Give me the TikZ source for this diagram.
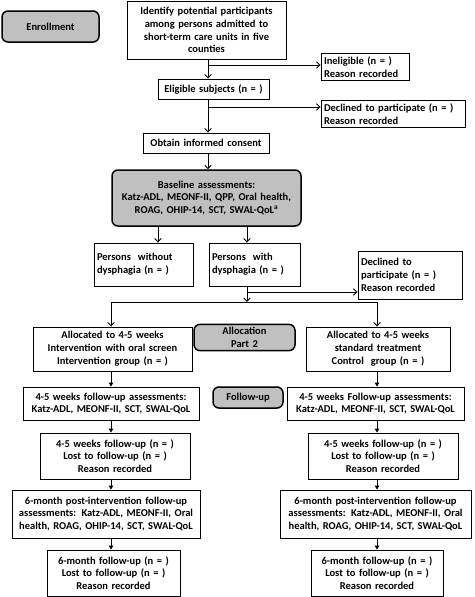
\documentclass[tikz,border=0pt]{standalone}
\usepackage{fontspec}
\setmainfont{Carlito}
\usetikzlibrary{arrows.meta}
\definecolor{boxgray}{RGB}{192,192,192}
\tikzset{
  box/.style={draw=black, line width=0.9pt, inner sep=3pt, font=\fontsize{10.5}{12.8}\selectfont\bfseries, align=center},
  lbox/.style={align=left},
  gbox/.style={fill=boxgray, rounded corners=6pt, line width=1.5pt},
  arr/.style={line width=0.9pt, -{Straight Barb[length=3.5pt,width=6.5pt]}},
  sarr/.style={line width=0.9pt, -{Triangle[length=4pt,width=4.5pt]}},
  ln/.style={line width=0.9pt}
}
\newcommand{\mybox}[7][]{%
  \pgfmathsetmacro\bxcx{(#3+#5)/2}\pgfmathsetmacro\bxcy{(#4+#6)/2}%
  \pgfmathsetmacro\bxw{#5-#3}\pgfmathsetmacro\bxh{#6-#4}\pgfmathsetmacro\bxtw{#5-#3-6}%
  \node[box,#1,minimum width=\bxw pt,minimum height=\bxh pt,text width=\bxtw pt] (#2) at (\bxcx,\bxcy) {#7};}
\begin{document}
\begin{tikzpicture}[x=1pt,y=-1pt]
\useasboundingbox (0,0) rectangle (474,597);
% enrollment column
\mybox[gbox]{enroll}{2}{11}{99}{42}{Enrollment}
\mybox{ident}{127}{1}{286}{59}{Identify potential participants\\among persons admitted to\\short-term care units in five\\counties}
\mybox[lbox]{inelig}{321}{55}{409}{79}{Ineligible (n = )\\Reason recorded}
\mybox{elig}{158}{79}{269}{99}{Eligible subjects (n = )}
\mybox[lbox]{decl1}{321}{102}{465}{126}{Declined to participate (n = )\\Reason recorded}
\mybox{consent}{143}{133}{269}{153}{Obtain informed consent}
\mybox[gbox]{base}{112}{170}{301}{226}{Baseline assessments:\\Katz-ADL, MEONF-II, QPP, Oral health,\\ROAG, OHIP-14, SCT, SWAL-QoL\textsuperscript{a}}
\mybox[lbox]{without}{94}{243}{193}{286}{Persons\ \ without\\dysphagia (n = )}
\mybox[lbox]{with}{209}{243}{300}{286}{Persons\ \ with\\dysphagia (n = )}
\mybox[lbox]{decl2}{358}{251}{462}{299}{Declined to\\participate (n = )\\Reason recorded}
% allocation
\mybox{intalloc}{33}{327}{192}{371}{Allocated to 4-5 weeks\\Intervention with oral screen\\Intervention group (n = )}
\mybox[gbox]{alloc}{194}{325}{295}{350}{Allocation\\Part 2}
\mybox{conalloc}{306}{327}{450}{371}{Allocated to 4-5 weeks\\standard treatment\\Control\ \ group (n = )}
% follow-up
\mybox{fuL}{23}{387}{199}{420}{4-5 weeks follow-up assessments:\\Katz-ADL, MEONF-II, SCT, SWAL-QoL}
\mybox[gbox]{fulabel}{213}{387}{283}{408}{Follow-up}
\mybox{fuR}{287}{387}{464}{420}{4-5 weeks Follow-up assessments:\\Katz-ADL, MEONF-II, SCT, SWAL-QoL}
\mybox{wkL}{40}{433}{190}{479}{4-5 weeks follow-up (n = )\\Lost to follow-up (n = )\\Reason recorded}
\mybox{wkR}{308}{433}{458}{479}{4-5 weeks follow-up (n = )\\Lost to follow-up (n = )\\Reason recorded}
\mybox{smL}{12}{490}{200}{538}{6-month post-intervention follow-up\\assessments: Katz-ADL, MEONF-II, Oral\\health, ROAG, OHIP-14, SCT, SWAL-QoL}
\mybox{smR}{280}{490}{471}{538}{6-month post-intervention follow-up\\assessments: Katz-ADL, MEONF-II, Oral\\health, ROAG, OHIP-14, SCT, SWAL-QoL}
\mybox{fsL}{47}{550}{180}{596}{6-month follow-up (n = )\\Lost to follow-up (n = )\\Reason recorded}
\mybox{fsR}{311}{550}{443}{596}{6-month follow-up (n = )\\Lost to follow-up (n = )\\Reason recorded}
% connectors (upper part)
\coordinate (b1) at (208,65);
\coordinate (b2) at (208,107);
\draw[arr] (ident.south -| b1) -- (elig.north -| b1);
\draw[arr] (b1) -- (b1 -| inelig.west);
\draw[arr] (elig.south -| b2) -- (consent.north -| b2);
\draw[arr] (b2) -- (b2 -| decl1.west);
\draw[arr] (consent.south -| b1) -- (base.north -| b1);
\coordinate (cw) at (158,0);
\coordinate (cd) at (247,0);
\draw[arr] (base.south -| cw) -- (without.north -| cw);
\draw[arr] (base.south -| cd) -- (with.north -| cd);
\coordinate (b3) at (247,292);
\coordinate (split) at (247,302);
\coordinate (colL) at (111,302);
\coordinate (colR) at (377,302);
\draw[arr] (with.south -| cd) -- (split);
\draw[arr] (b3) -- (b3 -| decl2.west);
\draw[ln] (colL) -- (colR);
\draw[arr] (colL) -- (intalloc.north -| colL);
\draw[arr] (colR) -- (conalloc.north -| colR);
% lower connectors
\draw[sarr] (intalloc.south -| colL) -- (fuL.north -| colL);
\draw[sarr] (fuL.south -| colL) -- (wkL.north -| colL);
\draw[sarr] (wkL.south -| colL) -- (smL.north -| colL);
\draw[sarr] (smL.south -| colL) -- (fsL.north -| colL);
\draw[sarr] (conalloc.south -| colR) -- (fuR.north -| colR);
\draw[sarr] (fuR.south -| colR) -- (wkR.north -| colR);
\draw[sarr] (wkR.south -| colR) -- (smR.north -| colR);
\draw[sarr] (smR.south -| colR) -- (fsR.north -| colR);
\end{tikzpicture}
\end{document}
